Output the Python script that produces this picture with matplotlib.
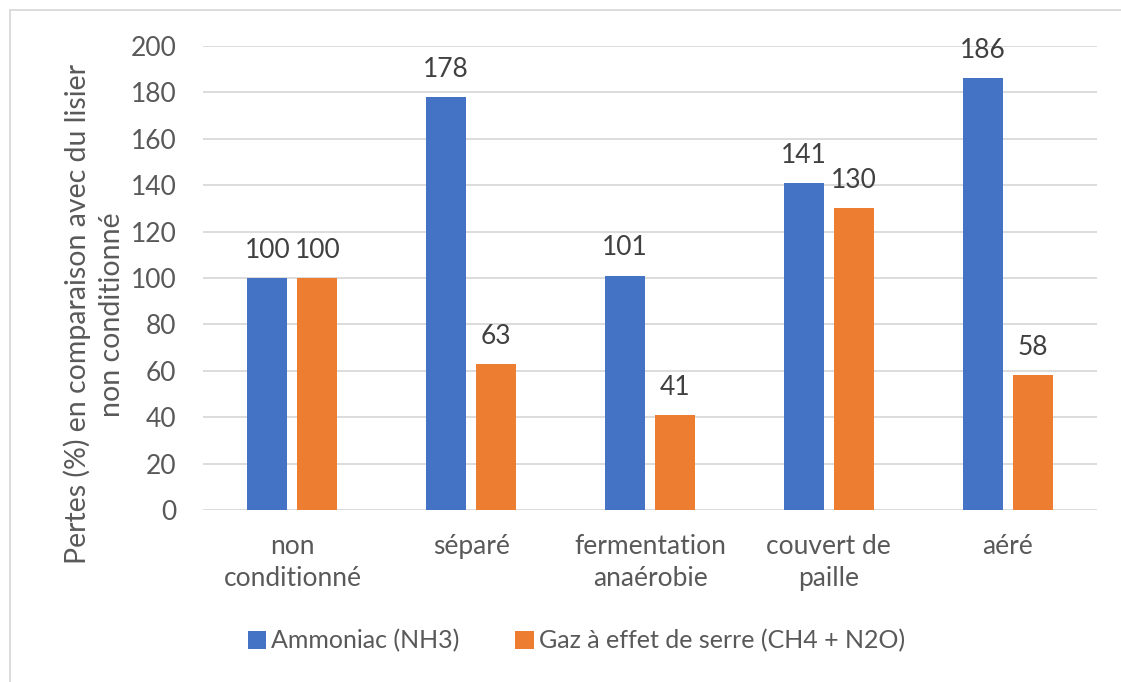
import matplotlib
matplotlib.use("Agg")
import matplotlib.pyplot as plt
import numpy as np
from matplotlib.patches import Rectangle

categories = ["non\nconditionné", "séparé", "fermentation\nanaérobie", "couvert de\npaille", "aéré"]
series_names = ["Ammoniac (NH3)", "Gaz à effet de serre (CH4 + N2O)"]
ammoniac = [100, 178, 101, 141, 186]
ges = [100, 63, 41, 130, 58]
yticks = [0, 20, 40, 60, 80, 100, 120, 140, 160, 180, 200]

blue = "#4472C4"
orange = "#ED7D31"
txt = "#595959"

plt.rcParams['font.family'] = ['Lato', 'DejaVu Sans']

fig = plt.figure(figsize=(11.21, 6.82), dpi=100)
ax = fig.add_axes([203/1121, 1-510/682, (1097-203)/1121, (510-46)/682])

x = np.arange(len(categories))
w = 0.224
off = 0.14
b1 = ax.bar(x - off, ammoniac, w, color=blue, label=series_names[0], zorder=3)
b2 = ax.bar(x + off, ges, w, color=orange, label=series_names[1], zorder=3)

for bars in (b1, b2):
    ax.bar_label(bars, padding=11, fontsize=19, color="#404040")

ax.set_xlim(-0.5, len(categories) - 0.5)
ax.set_ylim(0, 200)
ax.set_yticks(yticks)
ax.set_xticks(x)
ax.set_xticklabels(categories, fontsize=19, color=txt, linespacing=1.35)
ax.tick_params(axis='y', length=0, pad=19, labelsize=19, labelcolor=txt)
ax.tick_params(axis='x', length=0, pad=17)
ax.grid(axis='y', color="#D9D9D9", linewidth=1.3, zorder=0)
for s in ax.spines.values():
    s.set_visible(False)

ax.set_ylabel("Pertes (%) en comparaison avec du lisier\nnon conditionné", fontsize=20.5,
              color=txt, linespacing=1.35)
ax.yaxis.set_label_coords(-0.0875, 0.422)

leg = fig.legend(handles=[b1, b2], labels=series_names, loc='center', bbox_to_anchor=(0.514, 1-641/682),
                 ncol=2, frameon=False, fontsize=18, handlelength=0.75, handleheight=0.75,
                 columnspacing=2.2, handletextpad=0.2)
for t in leg.get_texts():
    t.set_color(txt)

fig.patches.append(Rectangle((10/1121, -0.1), 1.2, 1 - 10/682 + 0.1, transform=fig.transFigure,
                             fill=False, edgecolor="#D9D9D9", linewidth=1.3))

fig.savefig("out.png", dpi=100)
